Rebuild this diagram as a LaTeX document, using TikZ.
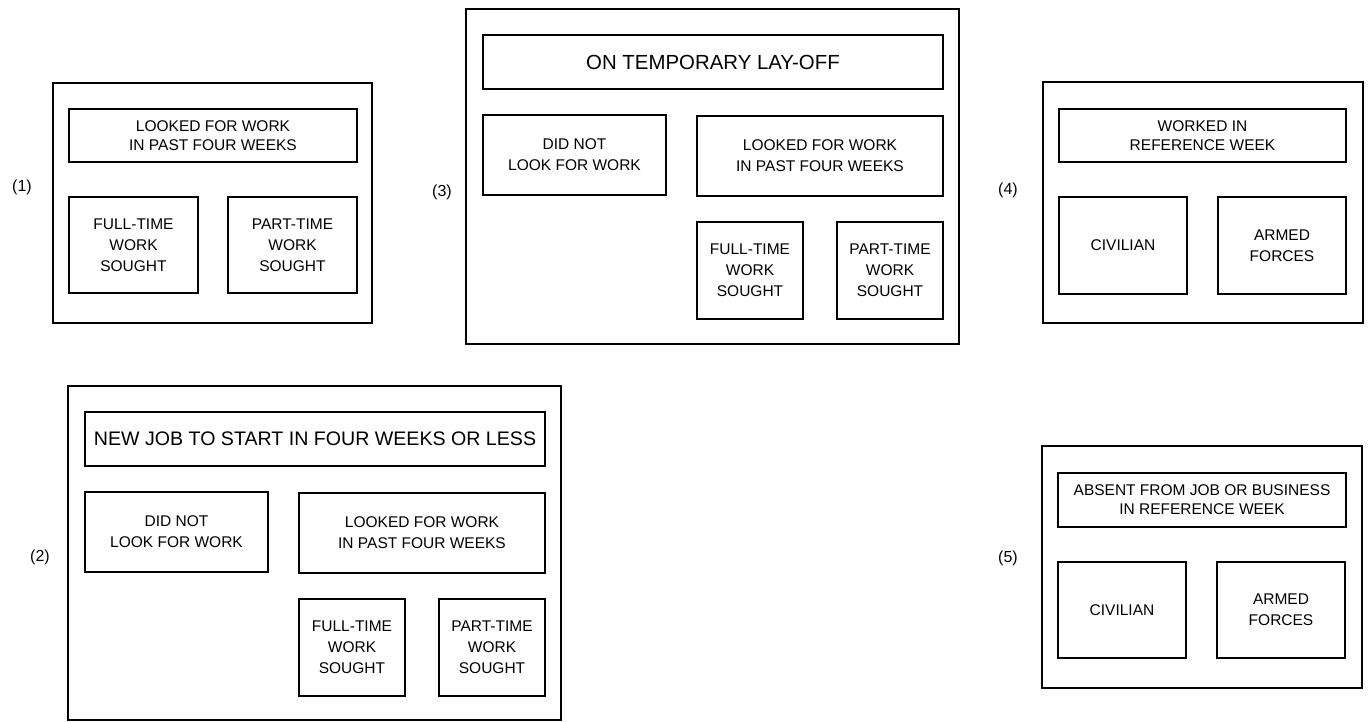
\documentclass[tikz,border=0pt]{standalone}
\usepackage{fontspec}
\setmainfont{Liberation Sans}
\tikzset{
  frame/.style={draw, line width=1.7pt, inner sep=0pt},
  cell/.style={draw, line width=1.5pt, inner sep=0pt, align=center,
    font=\fontsize{15.5}{21}\selectfont},
  cellhead/.style={cell, font=\fontsize{15.5}{19}\selectfont},
  bighead/.style={cell, font=\fontsize{20.4}{24}\selectfont},
  tag/.style={inner sep=0pt, font=\fontsize{16}{19}\selectfont}
}
\begin{document}
\begin{tikzpicture}[x=1pt,y=-1pt]
\useasboundingbox (0,0) rectangle (1370,722);
% ---- (1)
\node[frame, minimum width=319pt, minimum height=240pt] (o1) at (212.5,203) {};
\node[cellhead, minimum width=288pt, minimum height=53pt] (t1) at (213,135.5) {LOOKED FOR WORK\\IN PAST FOUR WEEKS};
\node[cell, minimum width=129pt, minimum height=96pt] (f1) at (133.5,245) {FULL-TIME\\WORK\\SOUGHT};
\node[cell, minimum width=129pt, minimum height=96pt] (p1) at (292.5,245) {PART-TIME\\WORK\\SOUGHT};
\node[tag] (l1) at (22,187) {(1)};
% ---- (3)
\node[frame, minimum width=493pt, minimum height=335pt] (o3) at (712.5,176.5) {};
\node[bighead, minimum width=460pt, minimum height=54pt] (t3) at (713,62) {ON TEMPORARY LAY-OFF};
\node[cell, minimum width=183pt, minimum height=80pt] (d3) at (574.5,155) {DID NOT\\LOOK FOR WORK};
\node[cell, minimum width=246pt, minimum height=80pt] (k3) at (820,156) {LOOKED FOR WORK\\IN PAST FOUR WEEKS};
\node[cell, minimum width=106pt, minimum height=97pt] (f3) at (750,270.5) {FULL-TIME\\WORK\\SOUGHT};
\node[cell, minimum width=106pt, minimum height=97pt] (p3) at (890,270.5) {PART-TIME\\WORK\\SOUGHT};
\node[tag] (l3) at (442,192) {(3)};
% ---- (4)
\node[frame, minimum width=320pt, minimum height=241pt] (o4) at (1203,202.5) {};
\node[cellhead, minimum width=287pt, minimum height=53pt] (t4) at (1202.5,135.5) {WORKED IN\\REFERENCE WEEK};
\node[cell, minimum width=128pt, minimum height=97pt] (c4) at (1123,245.5) {CIVILIAN};
\node[cell, minimum width=128pt, minimum height=97pt] (a4) at (1282,245.5) {ARMED\\FORCES};
\node[tag] (l4) at (1008,190) {(4)};
% ---- (2)
\node[frame, minimum width=493pt, minimum height=334pt] (o2) at (314.5,553) {};
\node[bighead, font=\fontsize{19.6}{24}\selectfont, minimum width=460pt, minimum height=54pt] (t2) at (315,439) {NEW JOB TO START IN FOUR WEEKS OR LESS};
\node[cell, minimum width=183pt, minimum height=80pt] (d2) at (176.5,532) {DID NOT\\LOOK FOR WORK};
\node[cell, minimum width=246pt, minimum height=80pt] (k2) at (422,533) {LOOKED FOR WORK\\IN PAST FOUR WEEKS};
\node[cell, minimum width=106pt, minimum height=97pt] (f2) at (352,647.5) {FULL-TIME\\WORK\\SOUGHT};
\node[cell, minimum width=106pt, minimum height=97pt] (p2) at (492,647.5) {PART-TIME\\WORK\\SOUGHT};
\node[tag] (l2) at (40,557) {(2)};
% ---- (5)
\node[frame, minimum width=320pt, minimum height=242pt] (o5) at (1202,567) {};
\node[cellhead, minimum width=288pt, minimum height=54pt] (t5) at (1202,500) {ABSENT FROM JOB OR BUSINESS\\IN REFERENCE WEEK};
\node[cell, minimum width=128pt, minimum height=96pt] (c5) at (1122,610) {CIVILIAN};
\node[cell, minimum width=128pt, minimum height=96pt] (a5) at (1281,610) {ARMED\\FORCES};
\node[tag] (l5) at (1008,558) {(5)};
\end{tikzpicture}
\end{document}
